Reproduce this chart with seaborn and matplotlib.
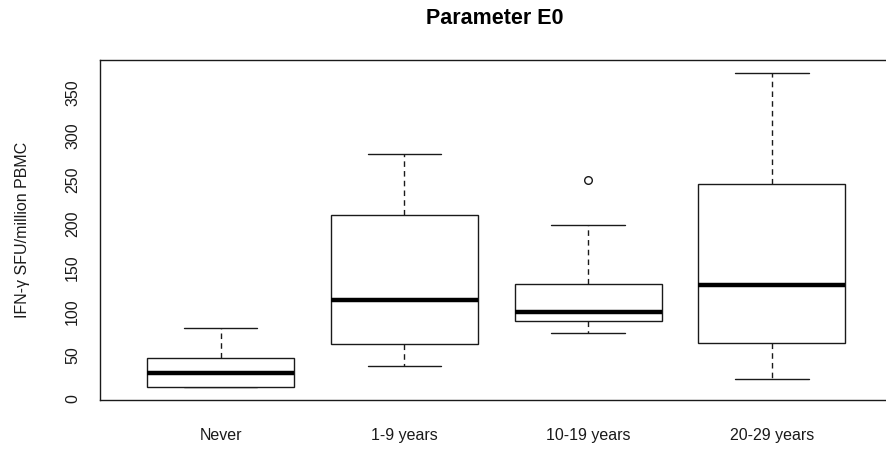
import numpy as np
import pandas as pd
import matplotlib
matplotlib.use("Agg")
import matplotlib.pyplot as plt
import seaborn as sns

# Five-number summaries of IFN-gamma responses per smoking-duration group
groups = ["Never", "1-9 years", "10-19 years", "20-29 years"]
lower_whisker = [13.2, 37.7, 74.9, 22.4]
q1 = [13.2, 62.8, 88.6, 63.9]
median = [30.0, 113.0, 99.3, 130.1]
q3 = [46.8, 210.4, 131.6, 245.8]
upper_whisker = [80.6, 280.1, 198.2, 372.0]

# Points beyond the whiskers
outlier_groups = ["10-19 years"]
outlier_values = [250.3]

yticks = [0, 50, 100, 150, 200, 250, 300, 350]

summary = pd.DataFrame({
    "group": np.repeat(groups, 5),
    "value": np.column_stack([lower_whisker, q1, median, q3, upper_whisker]).ravel(),
})
outliers = pd.DataFrame({"group": outlier_groups, "value": outlier_values})

sns.set_style("white")
plt.rcParams["font.family"] = ["Liberation Sans", "DejaVu Sans"]

fig = plt.figure(figsize=(8.86, 4.5), dpi=100)
ax = fig.add_axes([99.5 / 886, 50 / 450, (893 - 99.5) / 886, (400 - 60.5) / 450])

ink = "#1a1a1a"
sns.boxplot(
    data=summary, x="group", y="value", order=groups, ax=ax,
    whis=(0, 100), width=0.8, color="white", linecolor=ink, linewidth=1.0,
    showfliers=False,
    boxprops=dict(facecolor="white", edgecolor=ink, linewidth=1.0, zorder=3),
    medianprops=dict(color="black", linewidth=3.2, solid_capstyle="butt", zorder=4),
    whiskerprops=dict(color=ink, linewidth=1.0, linestyle=(0, (4, 3)), zorder=2),
    capprops=dict(color=ink, linewidth=1.0, zorder=2),
)
sns.stripplot(
    data=outliers, x="group", y="value", order=groups, ax=ax, jitter=False,
    marker="o", size=5.5, color="white", edgecolor=ink, linewidth=1.0, zorder=5,
)

all_vals = list(lower_whisker) + list(upper_whisker) + outlier_values
lo, hi = min(all_vals), max(all_vals)
pad = 0.04 * (hi - lo)
ax.set_ylim(lo - pad, hi + pad)
ax.set_xlim(-0.66, len(groups) - 1 + 0.66)

ax.set_yticks(yticks)
ax.set_yticklabels([str(t) for t in yticks], rotation=90, va="center", ha="right")
ax.set_xticks(range(len(groups)))
ax.set_xticklabels(groups)
ax.tick_params(axis="both", direction="out", length=8, width=1.0, color=ink,
               labelsize=11.5, labelcolor=ink)
ax.tick_params(axis="x", pad=12)
ax.tick_params(axis="y", pad=6)

for s in ax.spines.values():
    s.set_visible(True)
    s.set_color(ink)
    s.set_linewidth(1.0)

ax.set_xlabel("")
ax.set_ylabel("IFN-\u03b3 SFU/million PBMC", fontsize=11.5, color=ink, labelpad=25)
fig.text(495 / 886, 1 - 18 / 450, "Parameter E0", ha="center", va="center",
         fontsize=15.5, fontweight="bold", color="black")

fig.savefig("out.png", dpi=100, facecolor="white")
